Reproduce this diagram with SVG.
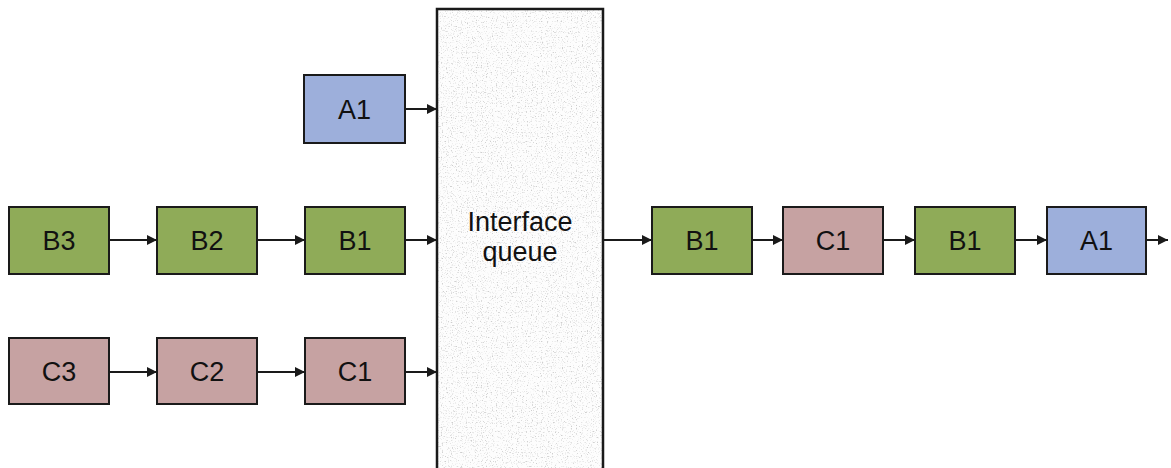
<svg xmlns="http://www.w3.org/2000/svg" width="1171" height="468" viewBox="0 0 1171 468">
  <style>
    .box { stroke: #1a1a1a; stroke-width: 2; }
    .a { fill: #9dafdb; }
    .b { fill: #8fab58; }
    .c { fill: #c6a2a2; }
    .lbl { font-family: "Liberation Sans", Arial, sans-serif; font-size: 27px; fill: #111; text-anchor: middle; }
    .link { stroke: #1a1a1a; stroke-width: 2; fill: none; marker-end: url(#arrow); }
  </style>
  <defs>
    <marker id="arrow" viewBox="0 0 10 10" refX="10" refY="5" markerWidth="5" markerHeight="5" orient="auto" markerUnits="strokeWidth">
      <path d="M0,0 L10,5 L0,10 Z" fill="#1a1a1a"/>
    </marker>
    <!-- sparse grey speckle for the queue fill -->
    <filter id="grain" x="0" y="0" width="100%" height="100%">
      <feTurbulence type="fractalNoise" baseFrequency="0.8" numOctaves="2" seed="7" result="n"/>
      <feColorMatrix in="n" type="matrix" values="0 0 0 0 0.62  0 0 0 0 0.62  0 0 0 0 0.62  0 0 0 -4 1.75" result="dots"/>
      <feComposite in="dots" in2="SourceGraphic" operator="in" result="speck"/>
      <feMerge>
        <feMergeNode in="SourceGraphic"/>
        <feMergeNode in="speck"/>
      </feMerge>
    </filter>
  </defs>

  <!-- shared queue -->
  <g id="queue">
    <rect x="437" y="9" width="166" height="470" fill="#fdfdfd" filter="url(#grain)"/>
    <path d="M437,468 L437,9 L603,9 L603,468" fill="none" stroke="#1a1a1a" stroke-width="2.5"/>
    <text class="lbl" x="520" y="231">Interface</text>
    <text class="lbl" x="520" y="261">queue</text>
  </g>

  <!-- input flows -->
  <g id="in-a1"><rect class="box a" x="304" y="75" width="101" height="68"/><text class="lbl" x="354.5" y="119">A1</text></g>
  <g id="in-b3"><rect class="box b" x="9" y="207" width="100" height="67"/><text class="lbl" x="59" y="250">B3</text></g>
  <g id="in-b2"><rect class="box b" x="157" y="207" width="100" height="67"/><text class="lbl" x="207" y="250">B2</text></g>
  <g id="in-b1"><rect class="box b" x="305" y="207" width="100" height="67"/><text class="lbl" x="355" y="250">B1</text></g>
  <g id="in-c3"><rect class="box c" x="9" y="338" width="100" height="66"/><text class="lbl" x="59" y="381">C3</text></g>
  <g id="in-c2"><rect class="box c" x="157" y="338" width="100" height="66"/><text class="lbl" x="207" y="381">C2</text></g>
  <g id="in-c1"><rect class="box c" x="305" y="338" width="100" height="66"/><text class="lbl" x="355" y="381">C1</text></g>

  <!-- output sequence -->
  <g id="out-b1a"><rect class="box b" x="652" y="207" width="100" height="67"/><text class="lbl" x="702" y="250">B1</text></g>
  <g id="out-c1"><rect class="box c" x="783" y="207" width="100" height="67"/><text class="lbl" x="833" y="250">C1</text></g>
  <g id="out-b1b"><rect class="box b" x="915" y="207" width="100" height="67"/><text class="lbl" x="965" y="250">B1</text></g>
  <g id="out-a1"><rect class="box a" x="1047" y="207" width="99" height="67"/><text class="lbl" x="1096.5" y="250">A1</text></g>

  <g id="connectors">
    <line class="link" x1="405" y1="109" x2="437" y2="109"/>
    <line class="link" x1="109" y1="240" x2="157" y2="240"/>
    <line class="link" x1="257" y1="240" x2="305" y2="240"/>
    <line class="link" x1="405" y1="240" x2="437" y2="240"/>
    <line class="link" x1="109" y1="372" x2="157" y2="372"/>
    <line class="link" x1="257" y1="372" x2="305" y2="372"/>
    <line class="link" x1="405" y1="372" x2="437" y2="372"/>
    <line class="link" x1="603" y1="240" x2="652" y2="240"/>
    <line class="link" x1="752" y1="240" x2="783" y2="240"/>
    <line class="link" x1="883" y1="240" x2="915" y2="240"/>
    <line class="link" x1="1015" y1="240" x2="1047" y2="240"/>
    <line class="link" x1="1146" y1="240" x2="1168" y2="240"/>
  </g>
</svg>
